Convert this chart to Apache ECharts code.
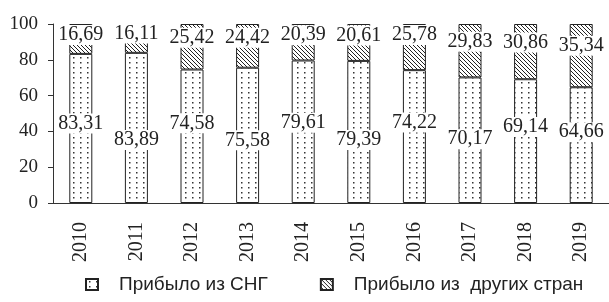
<!DOCTYPE html>
<html>
<head>
<meta charset="utf-8">
<script src="https://cdn.jsdelivr.net/npm/echarts@6/dist/echarts.min.js"></script>
<style>
  html, body { margin: 0; padding: 0; background: #fff; }
  #chart { width: 609px; height: 302px; }
</style>
</head>
<body>
<div id="chart"></div>
<script>
var years = ['2010', '2011', '2012', '2013', '2014', '2015', '2016', '2017', '2018', '2019'];
var fromCis = [83.31, 83.89, 74.58, 75.58, 79.61, 79.39, 74.22, 70.17, 69.14, 64.66];
var fromOther = [16.69, 16.11, 25.42, 24.42, 20.39, 20.61, 25.78, 29.83, 30.86, 35.34];
var seriesNames = ['Прибыло из СНГ', 'Прибыло из  других стран'];

// сдвиг подписей по вертикали (px), как в оригинале
var cisLabelShift = [-5, 12, -13, 5, -9, 8, -14, -1, -14, -13];
var otherLabelShift = [-4, -5, -9, -8, -7, -7, -12, -9, -9, -10];

function makeDots() {
  var c = document.createElement('canvas');
  c.width = 7; c.height = 5;
  var ctx = c.getContext('2d');
  ctx.fillStyle = '#fff';
  ctx.fillRect(0, 0, 7, 5);
  ctx.fillStyle = '#333';
  ctx.fillRect(3, 2, 1.5, 1.5);
  return c;
}

function makeHatch() {
  var c = document.createElement('canvas');
  c.width = 4; c.height = 4;
  var ctx = c.getContext('2d');
  ctx.fillStyle = '#fff';
  ctx.fillRect(0, 0, 4, 4);
  ctx.fillStyle = '#222';
  for (var i = 0; i < 4; i++) {
    ctx.fillRect(i, i, 1, 1);
  }
  return c;
}

var serif = "'Liberation Serif', 'Times New Roman', serif";

function withLabels(values, shifts) {
  return values.map(function (v, i) {
    return { value: v, label: { offset: [0, shifts[i]] } };
  });
}

function fmt(p) {
  return p.value.toFixed(2).replace('.', ',');
}

var labelStyle = {
  show: true,
  position: 'inside',
  formatter: fmt,
  fontFamily: serif,
  fontSize: 20,
  color: '#222',
  backgroundColor: '#fff',
  padding: [0, 1]
};

var option = {
  animation: false,
  grid: { left: 53, right: 0, top: 24, bottom: 99 },
  legend: {
    bottom: 3,
    left: 80,
    icon: 'rect',
    itemWidth: 12,
    itemHeight: 11,
    itemGap: 52,
    textStyle: {
      fontFamily: "'Liberation Sans', Arial, sans-serif",
      fontSize: 19,
      color: '#222',
      padding: [0, 0, 0, 16]
    },
    data: seriesNames
  },
  xAxis: {
    type: 'category',
    data: years,
    axisLine: { lineStyle: { color: '#333' } },
    axisTick: { length: 5, lineStyle: { color: '#333' } },
    axisLabel: { rotate: 90, fontFamily: serif, fontSize: 20, color: '#222', margin: 19 }
  },
  yAxis: {
    type: 'value',
    min: 0, max: 100, interval: 20,
    splitLine: { show: false },
    axisLine: { show: true, lineStyle: { color: '#333' } },
    axisTick: { show: true, length: 5, lineStyle: { color: '#333' } },
    axisLabel: { fontFamily: serif, fontSize: 19, color: '#222', margin: 15 }
  },
  series: [
    {
      name: seriesNames[0],
      type: 'bar',
      stack: 'total',
      barWidth: 23,
      itemStyle: { color: { image: makeDots(), repeat: 'repeat' }, borderColor: '#222', borderWidth: 1 },
      label: labelStyle,
      data: withLabels(fromCis, cisLabelShift)
    },
    {
      name: seriesNames[1],
      type: 'bar',
      stack: 'total',
      barWidth: 23,
      itemStyle: { color: { image: makeHatch(), repeat: 'repeat' }, borderColor: '#222', borderWidth: 1 },
      label: labelStyle,
      data: withLabels(fromOther, otherLabelShift)
    }
  ]
};

var myChart = echarts.init(document.getElementById('chart'));
myChart.setOption(option);
</script>
</body>
</html>
